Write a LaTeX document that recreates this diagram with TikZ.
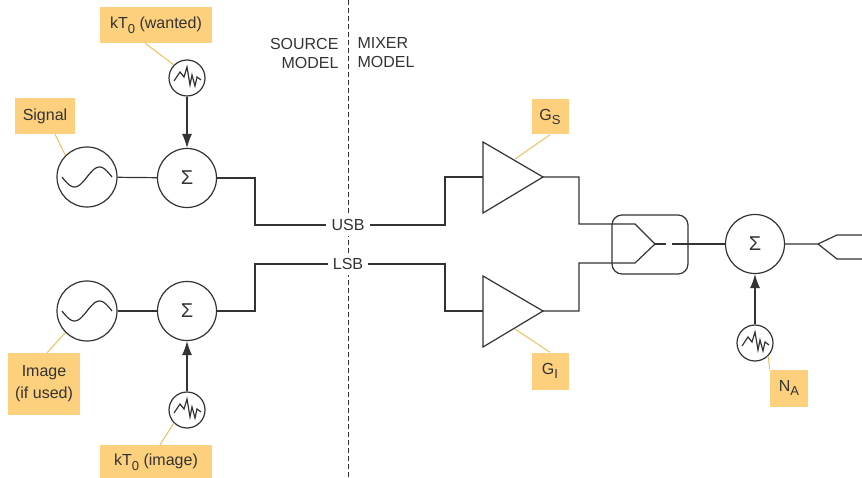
\documentclass[tikz,border=0pt]{standalone}
\usepackage{fontspec}
\setmainfont{Liberation Sans}
\usetikzlibrary{arrows.meta}
\definecolor{tagfill}{HTML}{FDD07E}
\definecolor{tagline}{HTML}{F1C05E}
\definecolor{wire}{HTML}{333333}
\newcommand{\lowidx}[1]{\raisebox{-0.3em}{\fontsize{13}{13}\selectfont #1}}
\tikzset{
  txt/.style={font=\fontsize{16}{19}\selectfont, text=wire},
  tag/.style={txt, fill=tagfill, inner sep=2pt, align=center},
  lead/.style={draw=tagline, line width=1pt},
  ring/.style={draw=wire, line width=1.2pt, circle, inner sep=0pt},
  wired/.style={draw=wire, line width=1.2pt},
  sumring/.style={ring, minimum size=59pt, text=wire, font=\fontsize{20}{20}\selectfont},
  tipped/.style={wired, -{Latex[length=14pt,width=10pt]}},
}
\begin{document}
\begin{tikzpicture}[x=1pt,y=-1pt]
  \useasboundingbox (0,0) rectangle (862,478);

  % divider between the two models
  \draw[wire, line width=1pt, dash pattern=on 5pt off 3pt] (348,0) -- (348,478);
  \node[txt, anchor=east, align=right] (src) at (342,53) {SOURCE\\MODEL};
  \node[txt, anchor=west, align=left] (mix) at (354,53) {MIXER\\MODEL};

  % oscillators
  \node[ring, minimum size=60pt] (oscS) at (87,177) {};
  \node[ring, minimum size=60pt] (oscI) at (87,311) {};
  \foreach \o in {oscS,oscI}
    \draw[wired, smooth] plot[domain=-25:25, samples=40, shift={(\o)}] (\x, {-10*sin(\x*7.2)});

  % summing points
  \node[sumring] (sumS) at (187,178) {Σ};
  \node[sumring] (sumI) at (187,311) {Σ};
  \node[sumring] (sumA) at (755,244) {Σ};

  % noise sources
  \node[ring, minimum size=36pt] (noiseS) at (187,78) {};
  \node[ring, minimum size=36pt] (noiseI) at (187,410) {};
  \node[ring, minimum size=36pt] (noiseA) at (755,343) {};
  \foreach \n in {noiseS,noiseI,noiseA}
    \draw[wire, line width=1.2pt, shift={(\n)}] (-13,3) -- (-7,-6) -- (-3,-1) -- (0,-11) -- (3,7) -- (5,-3) -- (8,8) -- (10,-1) -- (14,2);

  \draw[wired] (oscS) -- (sumS);
  \draw[wired] (oscI) -- (sumI);
  \draw[tipped] (noiseS) -- (sumS);
  \draw[tipped] (noiseI) -- (sumI);
  \draw[tipped] (noiseA) -- (sumA);

  % sidebands
  \node[txt, fill=white, inner sep=5pt] (usb) at (348,225) {USB};
  \node[txt, fill=white, inner sep=5pt] (lsb) at (348,264) {LSB};
  \draw[wired] (sumS.east) -- (255,178) -- (255,225) -- (usb.west);
  \draw[wired] (sumI.east) -- (255,311) -- (255,264) -- (lsb.west);

  % mixer gains
  \draw[wired] (483,142) -- (543,177) -- (483,213) -- cycle;
  \draw[wired] (483,276) -- (543,311) -- (483,347) -- cycle;
  \coordinate (gsin) at (483,177);
  \coordinate (gsout) at (543,177);
  \coordinate (giin) at (483,311);
  \coordinate (giout) at (543,311);
  \draw[wired] (usb.east) -- (445,225) -- (445,177) -- (gsin);
  \draw[wired] (lsb.east) -- (445,264) -- (445,311) -- (giin);

  % combiner
  \node[wired, rounded corners=10pt, minimum width=76pt, minimum height=59pt] (comb) at (650,244.5) {};
  \coordinate (tip) at (655,244);
  \draw[wired] (gsout) -- (579,177) -- (579,224) -- (635,224) -- (tip);
  \draw[wired] (giout) -- (579,311) -- (579,263) -- (635,263) -- (tip);
  \draw[wired] (tip) -- (666,244);
  \draw[wired] (672,244) -- (sumA.west);

  % output
  \coordinate (fork) at (818,244);
  \draw[wired] (sumA.east) -- (fork) -- (837,235) -- (862,235);
  \draw[wired] (fork) -- (837,259) -- (862,259);

  % labels
  \node[tag, minimum width=112pt, minimum height=36pt] (tagkS) at (156,25) {kT\lowidx{0} (wanted)};
  \node[tag, minimum width=60pt, minimum height=36pt] (tagsig) at (45,116) {Signal};
  \node[tag, minimum width=72pt, minimum height=62pt, font=\fontsize{16}{22}\selectfont] (tagimg) at (44,384) {Image\\(if used)};
  \node[tag, minimum width=112pt, minimum height=34pt] (tagkI) at (156,462) {kT\lowidx{0} (image)};
  \node[tag, minimum width=37pt, minimum height=35pt] (taggs) at (550,117) {G\lowidx{S}};
  \node[tag, minimum width=37pt, minimum height=37pt] (taggi) at (550,371) {G\lowidx{I}};
  \node[tag, minimum width=38pt, minimum height=37pt] (tagna) at (789,388) {N\lowidx{A}};

  \draw[lead] (tagkS.south) ++(-11,0) -- (noiseS.north west);
  \draw[lead] (tagsig.south) ++(10,0) -- (oscS.north west);
  \draw[lead] (tagimg.north) ++(3,0) -- (oscI.south west);
  \draw[lead] (tagkI.north) ++(4,0) -- (noiseI.south west);
  \draw[lead] (taggs.south) -- (515,159);
  \draw[lead] (taggi.north) -- (515,329);
  \draw[lead] (tagna.north west) -- (noiseA.south east);
\end{tikzpicture}
\end{document}
